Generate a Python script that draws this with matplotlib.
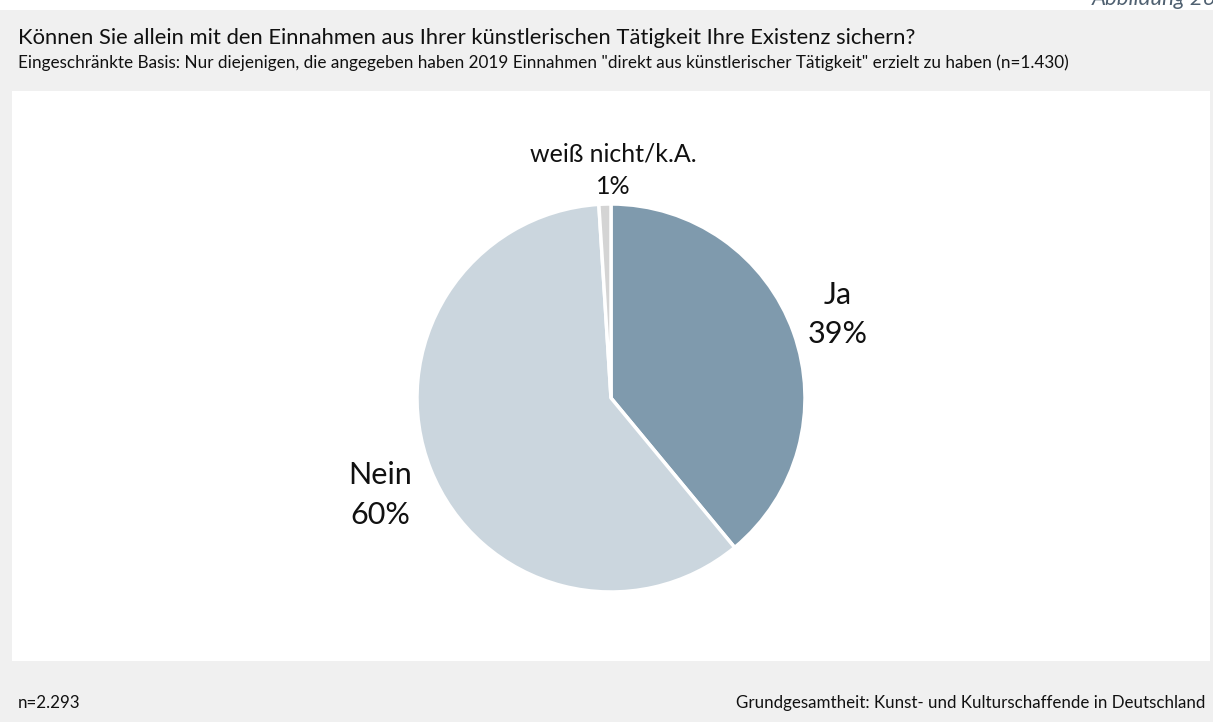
import matplotlib
matplotlib.use("Agg")
import matplotlib.pyplot as plt
from matplotlib.patches import Rectangle

# Survey answers and their shares (%)
categories = ["Ja", "Nein", "weiß nicht/k.A."]
shares = [39, 60, 1]
colors = ["#7f9aad", "#cbd6de", "#d4d4d4"]

title = "Können Sie allein mit den Einnahmen aus Ihrer künstlerischen Tätigkeit Ihre Existenz sichern?"
subtitle = ('Eingeschränkte Basis: Nur diejenigen, die angegeben haben 2019 Einnahmen '
            '"direkt aus künstlerischer Tätigkeit" erzielt zu haben (n=1.430)')
footer_left = "n=2.293"
footer_right = "Grundgesamtheit: Kunst- und Kulturschaffende in Deutschland"
figure_tag = "Abbildung 26"

W, H = 1213, 722
plt.rcParams["font.family"] = ["Lato", "DejaVu Sans"]
fig = plt.figure(figsize=(W / 100, H / 100), dpi=100, facecolor="white")


def fx(px):
    return px / W


def fy(py):
    return 1 - py / H


# grey frame and white plot panel (kept behind the pie axes)
fig.patches.append(Rectangle((0, 0), 1, fy(10), transform=fig.transFigure,
                             facecolor="#f0f0f0", edgecolor="none", zorder=-2))
fig.patches.append(Rectangle((fx(12), fy(661)), fx(1210) - fx(12), fy(91) - fy(661),
                             transform=fig.transFigure, facecolor="white",
                             edgecolor="none", zorder=-1))

fig.text(fx(1092), fy(5), figure_tag, fontsize=16, style="italic",
         color="#4f6070", ha="left", va="baseline")
fig.text(fx(18), fy(38), title, fontsize=15.8, ha="left", va="center", color="#111111")
fig.text(fx(18), fy(63), subtitle, fontsize=12.3, ha="left", va="center", color="#111111")
fig.text(fx(18), fy(703), footer_left, fontsize=12.2, ha="left", va="center", color="#111111")
fig.text(fx(1205), fy(703), footer_right, fontsize=12.2, ha="right", va="center", color="#111111")

# pie axes: centre (611, 398), radius 194 px
cx, cy, r = 611, 398, 194
ax = fig.add_axes([fx(cx - r), fy(cy + r), fx(2 * r), fy(cy - r) - fy(cy + r)])
ax.pie(shares, colors=colors, startangle=90, counterclock=False, radius=1,
       wedgeprops=dict(edgecolor="white", linewidth=2.5))
ax.set_xlim(-1, 1)
ax.set_ylim(-1, 1)
ax.set_aspect("equal")
ax.axis("off")

label_pos = [(1.17, 0.43), (-1.19, -0.5), (0.01, 1.175)]
label_size = [22, 22, 18]
for name, val, (lx, ly), fs in zip(categories, shares, label_pos, label_size):
    ax.text(lx, ly, f"{name}\n{val}%", fontsize=fs,
            ha="center", va="center", linespacing=1.5, clip_on=False, color="#111111")

fig.savefig("out.png", dpi=100, facecolor="white")
